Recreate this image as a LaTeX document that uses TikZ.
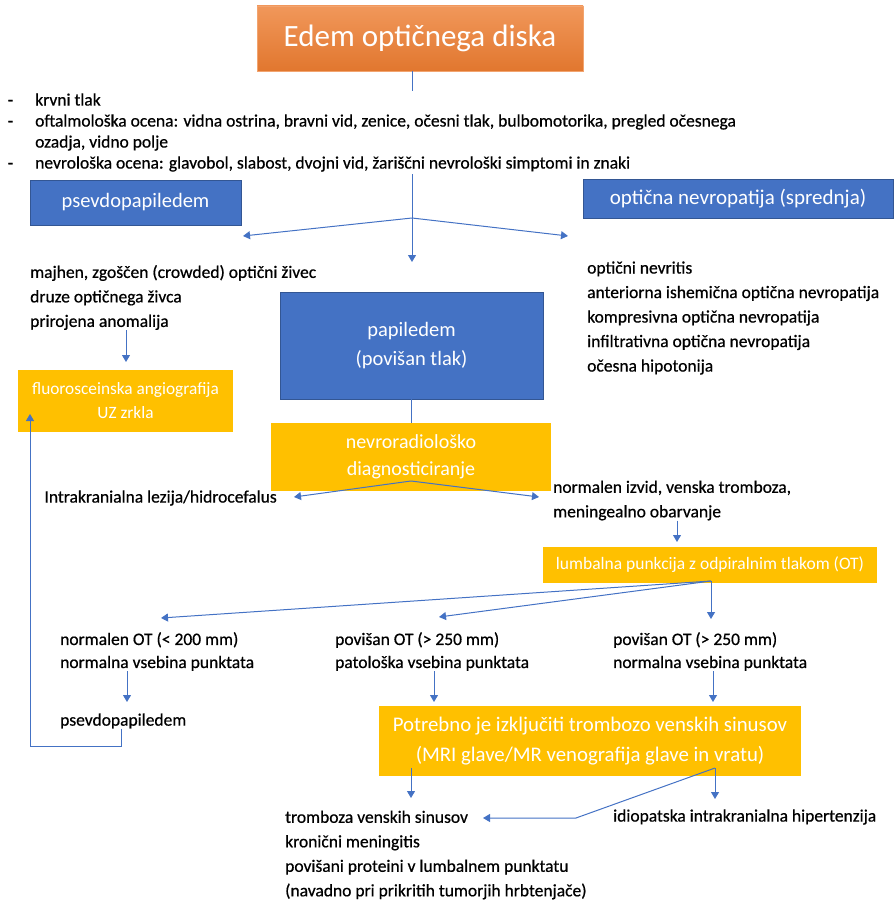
\documentclass[tikz,border=0pt]{standalone}
\usepackage{fontspec}
\setmainfont{Carlito}
\newfontfamily\telo[FakeBold=0.6]{Carlito}
\usetikzlibrary{arrows.meta}
\definecolor{modra}{RGB}{68,114,196}
\definecolor{rumena}{RGB}{255,192,0}
\definecolor{oranzna}{RGB}{237,125,49}
\begin{document}
\begin{tikzpicture}[x=1pt,y=-1pt,
  modro/.style={fill=modra,draw=modra!75!black,line width=0.8pt,text=white,align=center,font=\fontsize{20.5}{29}\selectfont},
  rumeno/.style={fill=rumena,text=white,align=center},
  besedilo/.style={anchor=west,inner sep=0pt,align=left,font=\telo\fontsize{17.5}{24.5}\selectfont},
  puscica/.style={draw=modra,line width=1pt,-{Triangle[width=8pt,length=7pt]}},
  crta/.style={draw=modra,line width=1pt}]
\useasboundingbox (0,0) rectangle (894,901);
% naslov
\node[draw=oranzna!70!white,top color=oranzna!80!white,bottom color=oranzna!95!black,text=white,font=\fontsize{31}{36}\selectfont,minimum width=326,minimum height=65] (naslov) at (420,38.5) {Edem optičnega diska};
\coordinate (r1) at (412,218);
\coordinate (papvrh) at (412,262);
\draw[puscica] (naslov.south -| papvrh) -- (papvrh);
\node[besedilo,font=\telo\fontsize{17.5}{21}\selectfont,fill=white,inner ysep=2pt] (seznam) at (35,132.5) {\llap{-\hspace{22pt}}krvni tlak\\
\llap{-\hspace{22pt}}oftalmološka ocena: vidna ostrina, bravni vid, zenice, očesni tlak, bulbomotorika, pregled očesnega\\
ozadja, vidno polje\\
\llap{-\hspace{22pt}}nevrološka ocena: glavobol, slabost, dvojni vid, žariščni nevrološki simptomi in znaki};
% prva razvejitev
\node[modro,minimum width=211,minimum height=45] (psevdo) at (135.5,202.5) {psevdopapiledem};
\node[modro,font=\fontsize{21}{29}\selectfont,minimum width=310,minimum height=39] (nevropatija) at (738,199) {optična nevropatija (sprednja)};
\coordinate (levo1) at (243,236);
\coordinate (desno1) at (568,236);
\draw[puscica] (r1) -- (levo1);
\draw[puscica] (r1) -- (desno1);
\node[besedilo] (majhen) at (30,297.5) {majhen, zgoščen (crowded) optični živec\\druze optičnega živca\\prirojena anomalija};
\node[besedilo] (vzroki) at (587,318) {optični nevritis\\anteriorna ishemična optična nevropatija\\kompresivna optična nevropatija\\infiltrativna optična nevropatija\\očesna hipotonija};
\node[modro,minimum width=263,minimum height=107] (pap) at (411.5,345.5) {papiledem\\(povišan tlak)};
\node[rumeno,font=\fontsize{17.3}{24}\selectfont,minimum width=215,minimum height=62] (fluo) at (125.5,401) {fluorosceinska angiografija\\UZ zrkla};
\coordinate (fluovrh) at (126,362);
\draw[puscica] (majhen.south -| fluovrh) -- (fluovrh);
% nevroradiologija
\node[rumeno,font=\fontsize{20}{27}\selectfont,minimum width=280,minimum height=68] (nevro) at (411,457) {nevroradiološko\\diagnosticiranje};
\draw[crta] (pap.south -| nevro.north) -- (nevro.north);
\coordinate (r2) at (411,481);
\coordinate (levo2) at (294,497);
\coordinate (desno2) at (539,497);
\draw[puscica] (r2) -- (levo2);
\draw[puscica] (r2) -- (desno2);
\node[besedilo,anchor=east] (lezija) at (277,498) {Intrakranialna lezija/hidrocefalus};
\node[besedilo] (izvid) at (553,500.5) {normalen izvid, venska tromboza,\\meningealno obarvanje};
\node[rumeno,font=\fontsize{17.5}{20}\selectfont,minimum width=334,minimum height=36] (lumb) at (710,565) {lumbalna punkcija z odpiralnim tlakom (OT)};
\coordinate (lumbvrh) at (677,542);
\draw[puscica] (izvid.south -| lumbvrh) -- (lumbvrh);
% tlak
\coordinate (r3) at (711,581);
\coordinate (ot1vrh) at (161,618);
\coordinate (ot2vrh) at (439,617);
\coordinate (ot3vrh) at (711,619);
\foreach \k in {ot1vrh,ot2vrh,ot3vrh}
  \draw[puscica] (r3) -- (\k);
\node[besedilo,font=\telo\fontsize{17.5}{23}\selectfont] (ot1) at (60,651.5) {normalen OT (< 200 mm)\\normalna vsebina punktata};
\node[besedilo,font=\telo\fontsize{17.5}{23}\selectfont] (ot2) at (335,651.5) {povišan OT (> 250 mm)\\patološka vsebina punktata};
\node[besedilo,font=\telo\fontsize{17.5}{23}\selectfont] (ot3) at (613,651.5) {povišan OT (> 250 mm)\\normalna vsebina punktata};
\node[besedilo] (psevdo2) at (60,721) {psevdopapiledem};
\node[rumeno,font=\fontsize{20.8}{30}\selectfont,minimum width=422,minimum height=70] (potrebno) at (590,741) {Potrebno je izključiti trombozo venskih sinusov\\(MRI glave/MR venografija glave in vratu)};
\coordinate (k1) at (127,702);
\coordinate (k2) at (434,702);
\coordinate (k3) at (713,702);
\draw[puscica] (ot1.south -| k1) -- (k1);
\draw[puscica] (ot2.south -| k2) -- (k2);
\draw[puscica] (ot3.south -| k3) -- (k3);
% zanka nazaj
\coordinate (zanka) at (121,746);
\coordinate (fluokonec) at (30,414);
\draw[puscica] (psevdo2.south -| zanka) -- (zanka) -- (zanka -| fluokonec) -- (fluokonec);
% izhodi
\node[besedilo] (tromboza) at (285,855) {tromboza venskih sinusov\\kronični meningitis\\povišani proteini v lumbalnem punktatu\\(navadno pri prikritih tumorjih hrbtenjače)};
\node[besedilo] (iih) at (613,817) {idiopatska intrakranialna hipertenzija};
\coordinate (r4) at (715,768);
\coordinate (levo4) at (411,798);
\coordinate (desno4) at (715,799);
\coordinate (lom) at (576,818);
\coordinate (trombkonec) at (483,818);
\draw[puscica] (levo4 |- r4) -- (levo4);
\draw[puscica] (r4) -- (desno4);
\draw[puscica] (r4) -- (lom) -- (trombkonec);
\end{tikzpicture}
\end{document}
